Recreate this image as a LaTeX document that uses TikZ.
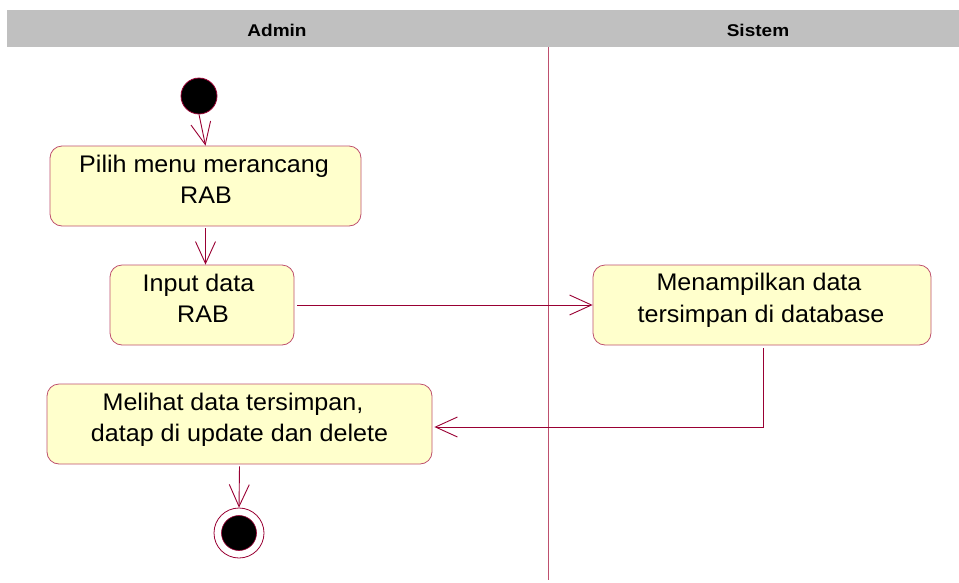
\documentclass[tikz,border=0pt]{standalone}
\usepackage{fontspec}
\setmainfont{Liberation Sans}
\newfontfamily\boxfont[FakeStretch=1.045]{Liberation Sans}
\newfontfamily\headfont[FakeStretch=1.12]{Liberation Sans}
\usetikzlibrary{arrows.meta}
\definecolor{lineC}{RGB}{153,0,51}
\definecolor{boxB}{RGB}{190,80,110}
\definecolor{boxF}{RGB}{255,255,204}
\definecolor{headG}{RGB}{192,192,192}
\begin{document}
\begin{tikzpicture}[x=1pt,y=-1pt,
  act/.style={draw=boxB, fill=boxF, rounded corners=12pt, line width=0.8pt, inner sep=0pt},
  txt/.style={anchor=base, inner sep=0pt, font=\boxfont\fontsize{24}{31}\selectfont},
  flow/.style={draw=lineC, line width=0.9pt, -{Straight Barb[length=22pt,width=20pt,line width=0.9pt]}},
  head/.style={anchor=base, inner sep=0pt, font=\headfont\fontsize{17}{19}\selectfont\bfseries}]
\useasboundingbox (0,0) rectangle (959,582);
\fill[headG] (7,10) rectangle (959,47);
\node[head] (hA) at (277,36) {Admin};
\node[head] (hS) at (758,36) {Sistem};
\coordinate (divT) at (548,47);
\coordinate (divB) at (548,580);
\draw[boxB, line width=0.8pt] (divT) -- (divB);
\node[circle, fill=black, draw=lineC, line width=0.8pt, minimum size=36pt, inner sep=0pt] (start) at (199,96) {};
\node[act, minimum width=311pt, minimum height=80pt] (b1) at (205.5,186) {};
\node[txt] (b1a) at (204,172) {Pilih menu merancang};
\node[txt] (b1b) at (206,203) {RAB};
\node[act, minimum width=184pt, minimum height=80pt] (b2) at (202,305) {};
\node[txt] (b2a) at (198.5,291) {Input data};
\node[txt] (b2b) at (203,322.5) {RAB};
\node[act, minimum width=338pt, minimum height=80pt] (b3) at (762,305) {};
\node[txt] (b3a) at (759,290) {Menampilkan data};
\node[txt] (b3b) at (761,322.5) {tersimpan di database};
\node[act, minimum width=385pt, minimum height=80pt] (b4) at (239.5,424) {};
\node[txt] (b4a) at (233,410) {Melihat data tersimpan,};
\node[txt] (b4b) at (239.5,441) {datap di update dan delete};
\node[circle, draw=lineC, fill=white, line width=0.8pt, minimum size=50pt, inner sep=0pt] (end) at (239,533) {};
\node[circle, fill=black, draw=lineC, line width=0.6pt, minimum size=35pt, inner sep=0pt] (endin) at (end) {};
\draw[flow] (start.south) -- (b1.north);
\draw[flow] ([yshift=-2pt]b1.south) -- (b2.north -| b1.south);
\draw[flow] ([xshift=3pt]b2.east) -- (b3.west);
\draw[flow] ([xshift=1pt,yshift=-3pt]b3.south) |- ([xshift=2pt,yshift=-3pt]b4.east);
\draw[flow] ([yshift=-2pt]b4.south) -- (end.north);
\end{tikzpicture}
\end{document}
